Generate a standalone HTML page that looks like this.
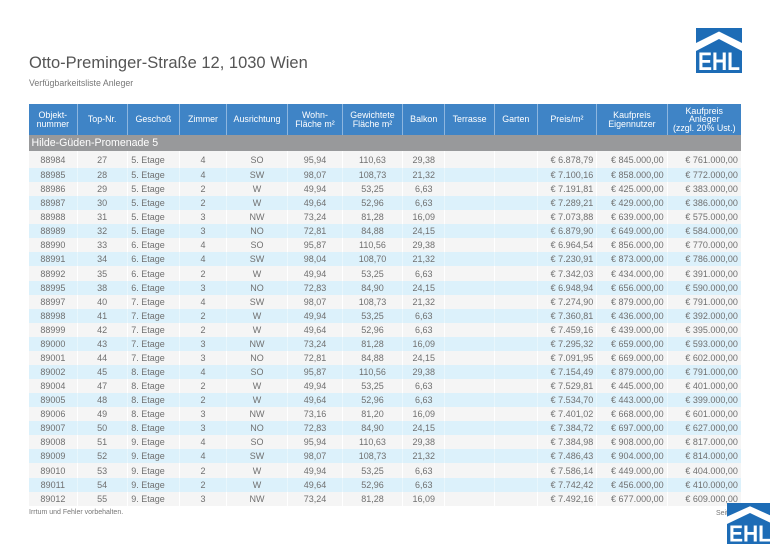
<!DOCTYPE html>
<html><head><meta charset="utf-8">
<style>
*{margin:0;padding:0;box-sizing:border-box;}
html,body{width:770px;height:545px;background:#fff;overflow:hidden;font-family:"Liberation Sans",sans-serif;}
.abs{position:absolute;}
.title{left:29px;top:55px;font-size:16.5px;line-height:16.5px;color:#555;white-space:nowrap;}
.sub{left:29px;top:78px;font-size:8.8px;line-height:10px;color:#777;white-space:nowrap;}
.row{position:absolute;left:29px;width:712px;display:grid;grid-template-columns:47.7px 50px 52.6px 46.4px 61.6px 54.4px 60.6px 42px 49.7px 42.7px 59.6px 70.4px 74.3px;}
.row>div{display:flex;align-items:center;justify-content:center;border-left:1px solid #fff;font-size:9px;color:#707070;white-space:nowrap;overflow:visible;}
.row>div:first-child{border-left:none;}
.hd{top:104px;height:31px;background:#3f84c6;}
.hd>div{color:#fff !important;font-size:8.9px !important;line-height:8.3px;text-align:center;border-left:1px solid #8db6df !important;}
.hd>div:first-child{border-left:none !important;}
.hd>div>span{display:block;text-align:center;}
.grp{left:29px;top:135px;width:712px;height:16px;background:#98999b;color:#fff;font-size:10.6px;line-height:16px;padding-left:2.5px;}
.o{background:#f5f5f5;}
.e{background:#dcf1fb;}
.e>div{border-left:1px solid #e8f6fc;}
.row>div.l{justify-content:flex-start;padding-left:3.5px;}
.row>div.r{justify-content:flex-end;padding-right:3px;}
.foot{left:29px;top:509px;font-size:7px;line-height:8px;color:#777;white-space:nowrap;}
.seite{left:716px;top:510px;font-size:7px;line-height:8px;color:#777;white-space:nowrap;}
</style></head><body>

<div class="abs title">Otto-Preminger-Straße 12, 1030 Wien</div>
<div class="abs sub">Verfügbarkeitsliste Anleger</div>

<svg class="abs" style="left:696px;top:28px" width="46" height="45" viewBox="0 0 46 45">
<rect width="46" height="45" fill="#1d6cb6"/>
<polygon points="0,15 23,3.5 46,15 46,23 23,11 0,23" fill="#fff"/>
<text x="23" y="42" text-anchor="middle" font-family="Liberation Sans" font-weight="bold" font-size="25" fill="#fff" textLength="42" lengthAdjust="spacingAndGlyphs">EHL</text>
</svg>

<div class="row hd">
<div><span>Objekt-<br>nummer</span></div>
<div><span>Top-Nr.</span></div>
<div><span>Geschoß</span></div>
<div><span>Zimmer</span></div>
<div><span>Ausrichtung</span></div>
<div><span>Wohn-<br>Fläche m²</span></div>
<div><span>Gewichtete<br>Fläche m²</span></div>
<div><span>Balkon</span></div>
<div><span>Terrasse</span></div>
<div><span>Garten</span></div>
<div><span>Preis/m²</span></div>
<div><span>Kaufpreis<br>Eigennutzer</span></div>
<div><span>Kaufpreis<br>Anleger<br>(zzgl. 20% Ust.)</span></div>
</div>

<div class="abs grp">Hilde-Güden-Promenade 5</div>

<div class="row o" style="top:151px;height:17px"><div>88984</div><div>27</div><div class="l">5. Etage</div><div>4</div><div>SO</div><div>95,94</div><div>110,63</div><div>29,38</div><div></div><div></div><div class="r">€ 6.878,79</div><div class="r">€ 845.000,00</div><div class="r">€ 761.000,00</div></div>
<div class="row e" style="top:168px;height:14.07px"><div>88985</div><div>28</div><div class="l">5. Etage</div><div>4</div><div>SW</div><div>98,07</div><div>108,73</div><div>21,32</div><div></div><div></div><div class="r">€ 7.100,16</div><div class="r">€ 858.000,00</div><div class="r">€ 772.000,00</div></div>
<div class="row o" style="top:182.07px;height:14.07px"><div>88986</div><div>29</div><div class="l">5. Etage</div><div>2</div><div>W</div><div>49,94</div><div>53,25</div><div>6,63</div><div></div><div></div><div class="r">€ 7.191,81</div><div class="r">€ 425.000,00</div><div class="r">€ 383.000,00</div></div>
<div class="row e" style="top:196.14px;height:14.07px"><div>88987</div><div>30</div><div class="l">5. Etage</div><div>2</div><div>W</div><div>49,64</div><div>52,96</div><div>6,63</div><div></div><div></div><div class="r">€ 7.289,21</div><div class="r">€ 429.000,00</div><div class="r">€ 386.000,00</div></div>
<div class="row o" style="top:210.21px;height:14.07px"><div>88988</div><div>31</div><div class="l">5. Etage</div><div>3</div><div>NW</div><div>73,24</div><div>81,28</div><div>16,09</div><div></div><div></div><div class="r">€ 7.073,88</div><div class="r">€ 639.000,00</div><div class="r">€ 575.000,00</div></div>
<div class="row e" style="top:224.28px;height:14.07px"><div>88989</div><div>32</div><div class="l">5. Etage</div><div>3</div><div>NO</div><div>72,81</div><div>84,88</div><div>24,15</div><div></div><div></div><div class="r">€ 6.879,90</div><div class="r">€ 649.000,00</div><div class="r">€ 584.000,00</div></div>
<div class="row o" style="top:238.35px;height:14.07px"><div>88990</div><div>33</div><div class="l">6. Etage</div><div>4</div><div>SO</div><div>95,87</div><div>110,56</div><div>29,38</div><div></div><div></div><div class="r">€ 6.964,54</div><div class="r">€ 856.000,00</div><div class="r">€ 770.000,00</div></div>
<div class="row e" style="top:252.42px;height:14.07px"><div>88991</div><div>34</div><div class="l">6. Etage</div><div>4</div><div>SW</div><div>98,04</div><div>108,70</div><div>21,32</div><div></div><div></div><div class="r">€ 7.230,91</div><div class="r">€ 873.000,00</div><div class="r">€ 786.000,00</div></div>
<div class="row o" style="top:266.49px;height:14.07px"><div>88992</div><div>35</div><div class="l">6. Etage</div><div>2</div><div>W</div><div>49,94</div><div>53,25</div><div>6,63</div><div></div><div></div><div class="r">€ 7.342,03</div><div class="r">€ 434.000,00</div><div class="r">€ 391.000,00</div></div>
<div class="row e" style="top:280.56px;height:14.07px"><div>88995</div><div>38</div><div class="l">6. Etage</div><div>3</div><div>NO</div><div>72,83</div><div>84,90</div><div>24,15</div><div></div><div></div><div class="r">€ 6.948,94</div><div class="r">€ 656.000,00</div><div class="r">€ 590.000,00</div></div>
<div class="row o" style="top:294.63px;height:14.07px"><div>88997</div><div>40</div><div class="l">7. Etage</div><div>4</div><div>SW</div><div>98,07</div><div>108,73</div><div>21,32</div><div></div><div></div><div class="r">€ 7.274,90</div><div class="r">€ 879.000,00</div><div class="r">€ 791.000,00</div></div>
<div class="row e" style="top:308.7px;height:14.07px"><div>88998</div><div>41</div><div class="l">7. Etage</div><div>2</div><div>W</div><div>49,94</div><div>53,25</div><div>6,63</div><div></div><div></div><div class="r">€ 7.360,81</div><div class="r">€ 436.000,00</div><div class="r">€ 392.000,00</div></div>
<div class="row o" style="top:322.77px;height:14.07px"><div>88999</div><div>42</div><div class="l">7. Etage</div><div>2</div><div>W</div><div>49,64</div><div>52,96</div><div>6,63</div><div></div><div></div><div class="r">€ 7.459,16</div><div class="r">€ 439.000,00</div><div class="r">€ 395.000,00</div></div>
<div class="row e" style="top:336.84px;height:14.07px"><div>89000</div><div>43</div><div class="l">7. Etage</div><div>3</div><div>NW</div><div>73,24</div><div>81,28</div><div>16,09</div><div></div><div></div><div class="r">€ 7.295,32</div><div class="r">€ 659.000,00</div><div class="r">€ 593.000,00</div></div>
<div class="row o" style="top:350.91px;height:14.07px"><div>89001</div><div>44</div><div class="l">7. Etage</div><div>3</div><div>NO</div><div>72,81</div><div>84,88</div><div>24,15</div><div></div><div></div><div class="r">€ 7.091,95</div><div class="r">€ 669.000,00</div><div class="r">€ 602.000,00</div></div>
<div class="row e" style="top:364.98px;height:14.07px"><div>89002</div><div>45</div><div class="l">8. Etage</div><div>4</div><div>SO</div><div>95,87</div><div>110,56</div><div>29,38</div><div></div><div></div><div class="r">€ 7.154,49</div><div class="r">€ 879.000,00</div><div class="r">€ 791.000,00</div></div>
<div class="row o" style="top:379.05px;height:14.07px"><div>89004</div><div>47</div><div class="l">8. Etage</div><div>2</div><div>W</div><div>49,94</div><div>53,25</div><div>6,63</div><div></div><div></div><div class="r">€ 7.529,81</div><div class="r">€ 445.000,00</div><div class="r">€ 401.000,00</div></div>
<div class="row e" style="top:393.12px;height:14.07px"><div>89005</div><div>48</div><div class="l">8. Etage</div><div>2</div><div>W</div><div>49,64</div><div>52,96</div><div>6,63</div><div></div><div></div><div class="r">€ 7.534,70</div><div class="r">€ 443.000,00</div><div class="r">€ 399.000,00</div></div>
<div class="row o" style="top:407.19px;height:14.07px"><div>89006</div><div>49</div><div class="l">8. Etage</div><div>3</div><div>NW</div><div>73,16</div><div>81,20</div><div>16,09</div><div></div><div></div><div class="r">€ 7.401,02</div><div class="r">€ 668.000,00</div><div class="r">€ 601.000,00</div></div>
<div class="row e" style="top:421.26px;height:14.07px"><div>89007</div><div>50</div><div class="l">8. Etage</div><div>3</div><div>NO</div><div>72,83</div><div>84,90</div><div>24,15</div><div></div><div></div><div class="r">€ 7.384,72</div><div class="r">€ 697.000,00</div><div class="r">€ 627.000,00</div></div>
<div class="row o" style="top:435.33px;height:14.07px"><div>89008</div><div>51</div><div class="l">9. Etage</div><div>4</div><div>SO</div><div>95,94</div><div>110,63</div><div>29,38</div><div></div><div></div><div class="r">€ 7.384,98</div><div class="r">€ 908.000,00</div><div class="r">€ 817.000,00</div></div>
<div class="row e" style="top:449.4px;height:14.07px"><div>89009</div><div>52</div><div class="l">9. Etage</div><div>4</div><div>SW</div><div>98,07</div><div>108,73</div><div>21,32</div><div></div><div></div><div class="r">€ 7.486,43</div><div class="r">€ 904.000,00</div><div class="r">€ 814.000,00</div></div>
<div class="row o" style="top:463.47px;height:14.07px"><div>89010</div><div>53</div><div class="l">9. Etage</div><div>2</div><div>W</div><div>49,94</div><div>53,25</div><div>6,63</div><div></div><div></div><div class="r">€ 7.586,14</div><div class="r">€ 449.000,00</div><div class="r">€ 404.000,00</div></div>
<div class="row e" style="top:477.54px;height:14.07px"><div>89011</div><div>54</div><div class="l">9. Etage</div><div>2</div><div>W</div><div>49,64</div><div>52,96</div><div>6,63</div><div></div><div></div><div class="r">€ 7.742,42</div><div class="r">€ 456.000,00</div><div class="r">€ 410.000,00</div></div>
<div class="row o" style="top:491.61px;height:14.07px"><div>89012</div><div>55</div><div class="l">9. Etage</div><div>3</div><div>NW</div><div>73,24</div><div>81,28</div><div>16,09</div><div></div><div></div><div class="r">€ 7.492,16</div><div class="r">€ 677.000,00</div><div class="r">€ 609.000,00</div></div>

<div class="abs foot">Irrtum und Fehler vorbehalten.</div>
<div class="abs seite">Seite 1</div>

<svg class="abs" style="left:727px;top:503px" width="46" height="41" viewBox="0 0 46 45" preserveAspectRatio="none">
<rect width="46" height="45" fill="#1d6cb6"/>
<polygon points="0,15 23,3.5 46,15 46,23 23,11 0,23" fill="#fff"/>
<text x="23" y="42" text-anchor="middle" font-family="Liberation Sans" font-weight="bold" font-size="25" fill="#fff" textLength="42" lengthAdjust="spacingAndGlyphs">EHL</text>
</svg>

</body></html>
